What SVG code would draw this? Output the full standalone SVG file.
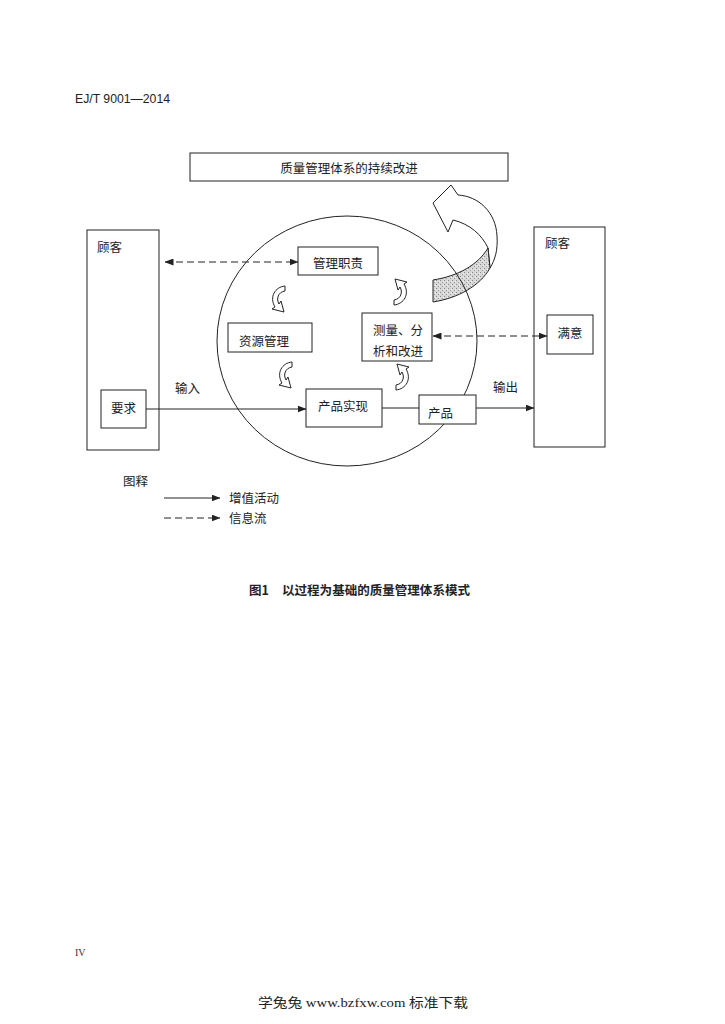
<svg xmlns="http://www.w3.org/2000/svg" xmlns:xlink="http://www.w3.org/1999/xlink" width="725" height="1024" viewBox="0 0 725 1024">
<style>
.bg{fill:#fff}
.box{fill:#fff;stroke:#222;stroke-width:1}
.t{font-family:"Noto Sans CJK SC","Noto Sans",sans-serif;font-size:12.5px;fill:#222}
.ln{stroke:#222;stroke-width:1;fill:none}
.dash{stroke:#222;stroke-width:1;fill:none;stroke-dasharray:7 4}
.ca{fill:#fff;stroke:#222;stroke-width:1;stroke-linejoin:miter}
</style>
<defs>
<marker id="ah" markerWidth="9" markerHeight="7" refX="8.5" refY="3.5" orient="auto-start-reverse" markerUnits="userSpaceOnUse">
<path d="M0,0 L9,3.5 L0,7 Z" fill="#222"/>
</marker>
<pattern id="dots" width="4" height="4" patternUnits="userSpaceOnUse">
<rect width="4" height="4" fill="#d8d8d8"/>
<rect x="0" y="0" width="1" height="1" fill="#888"/>
<rect x="2" y="2" width="1" height="1" fill="#999"/>
<rect x="3" y="1" width="1" height="1" fill="#f4f4f4"/>
</pattern>
<path id="carrow" d="M15,0 C5,1 -1,11 5,21 L2,23 L14,26 L11,15 L9,18 C6,13 8,6 15,5 Z"/>
</defs>
<rect class="bg" width="725" height="1024"/>

<text x="75" y="103" font-family="Liberation Sans, sans-serif" font-size="12" fill="#222" textLength="95" lengthAdjust="spacingAndGlyphs">EJ/T 9001—2014</text>

<g id="improvement">
<rect class="box" x="190" y="153" width="318" height="28"/>
<text class="t" x="349" y="173" text-anchor="middle">质量管理体系的持续改进</text>
</g>

<g id="big-arrow">
<path d="M433,203 L451,185 L458,195 C478,196 496,212 497,236 C498,250 495,260 490,268 L488,248 C482,235 470,224 453,220 L448,232 Z" fill="#fff" stroke="#222" stroke-width="1" stroke-linejoin="miter"/>
<path d="M488,248 C478,265 458,276 433,280 L433,302 C458,298 480,286 490,268 Z" fill="url(#dots)" stroke="#222" stroke-width="1"/>
</g>

<g id="process-circle">
<ellipse class="ln" cx="347" cy="341" rx="130" ry="125"/>
</g>

<g id="customer-left">
<rect class="box" x="87" y="230" width="72" height="220"/>
<text class="t" x="97" y="252">顾客</text>
</g>

<g id="requirement">
<rect class="box" x="101" y="390" width="45" height="38"/>
<text class="t" x="123.5" y="413" text-anchor="middle">要求</text>
</g>

<g id="customer-right">
<rect class="box" x="534" y="227" width="71" height="220"/>
<text class="t" x="545" y="248">顾客</text>
</g>

<g id="satisfaction">
<rect class="box" x="547" y="315" width="46" height="39"/>
<text class="t" x="570" y="338" text-anchor="middle">满意</text>
</g>

<g id="management">
<rect class="box" x="298" y="247" width="80" height="28"/>
<text class="t" x="338" y="268" text-anchor="middle">管理职责</text>
</g>

<g id="resource">
<rect class="box" x="228" y="323" width="84" height="29"/>
<text class="t" x="264" y="346" text-anchor="middle">资源管理</text>
</g>

<g id="measurement">
<rect class="box" x="362" y="313" width="70" height="48"/>
<text class="t" x="373" y="335">测量、分</text>
<text class="t" x="373" y="356">析和改进</text>
</g>

<g id="realization">
<rect class="box" x="306" y="389" width="76" height="38"/>
<text class="t" x="343" y="411" text-anchor="middle">产品实现</text>
</g>

<g id="product">
<rect class="box" x="419" y="395" width="57" height="29"/>
<text class="t" x="428" y="418">产品</text>
</g>

<g id="connectors">
<line class="dash" x1="165" y1="262" x2="298" y2="262" marker-start="url(#ah)" marker-end="url(#ah)"/>
<line class="dash" x1="433" y1="336" x2="547" y2="336" marker-start="url(#ah)" marker-end="url(#ah)"/>
<line class="ln" x1="146" y1="409" x2="306" y2="409" marker-end="url(#ah)"/>
<line class="ln" x1="382" y1="408" x2="419" y2="408"/>
<line class="ln" x1="476" y1="408" x2="534" y2="408" marker-end="url(#ah)"/>
<text class="t" x="175" y="393">输入</text>
<text class="t" x="493" y="392">输出</text>
<use xlink:href="#carrow" class="ca" transform="translate(270,286)"/>
<use xlink:href="#carrow" class="ca" transform="translate(409,305) rotate(180)"/>
<use xlink:href="#carrow" class="ca" transform="translate(277,362)"/>
<use xlink:href="#carrow" class="ca" transform="translate(411,390) rotate(180)"/>
</g>

<g id="legend">
<text class="t" x="123" y="486">图释</text>
<line class="ln" x1="164" y1="498" x2="220" y2="498" marker-end="url(#ah)"/>
<text class="t" x="229" y="503">增值活动</text>
<line class="dash" x1="164" y1="518" x2="220" y2="518" marker-end="url(#ah)"/>
<text class="t" x="229" y="523">信息流</text>
</g>

<text x="249" y="595" font-family="Noto Sans CJK SC, sans-serif" font-size="12.5" font-weight="bold" fill="#222">图1</text>
<text x="282" y="595" font-family="Noto Sans CJK SC, sans-serif" font-size="12.5" font-weight="bold" fill="#222" textLength="188" lengthAdjust="spacingAndGlyphs">以过程为基础的质量管理体系模式</text>

<text x="75" y="956" font-family="Liberation Serif, serif" font-size="10" fill="#333">IV</text>

<text x="258" y="1007" font-family="Liberation Serif, Noto Sans CJK SC, serif" font-size="13" fill="#222" textLength="210" lengthAdjust="spacingAndGlyphs">学兔兔 www.bzfxw.com 标准下载</text>
</svg>
